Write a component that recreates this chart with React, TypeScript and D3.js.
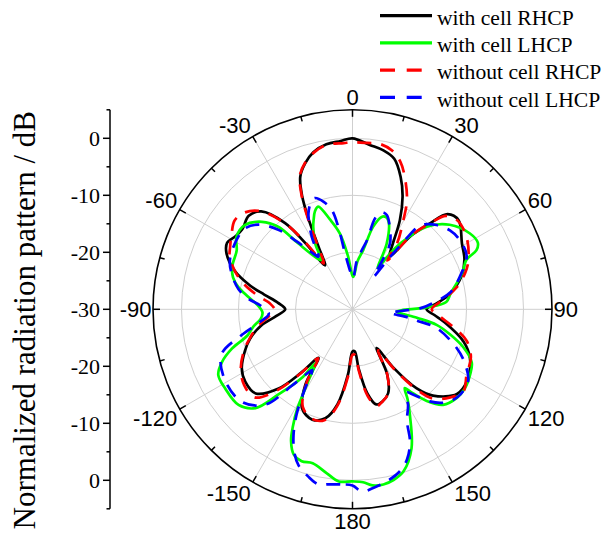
import * as d3 from 'd3';
import { useRef, useEffect } from 'react';

// angle (deg, clockwise from top), normalized level (dB)
const withCellRHCP = [
  [-180, -22.6], [-176, -18.5], [-171, -13.1], [-166, -10.3], [-160, -9.4], [-153, -10.5], [-148, -14.4], [-145, -19.6],
  [-141, -15.7], [-137, -11], [-131, -7.5], [-124, -7.3], [-118, -8], [-111, -9.8], [-106, -11.3], [-100, -13.8],
  [-95, -16.6], [-90, -18.2], [-85, -16.9], [-80.5, -14.3], [-77, -11.6], [-72, -8.3], [-66, -5.8], [-62, -5.1],
  [-58, -5.8], [-54, -6.1], [-48, -5.5], [-43, -6.5], [-38, -10.8], [-35.5, -15.7], [-32, -20.9], [-28.5, -17.5],
  [-26, -12.5], [-24, -8.3], [-21.5, -5], [-18, -3.1], [-14, -1.6], [-9, -0.7], [-4, -0.4], [0, 0], [6, -1],
  [11, -1.6], [15.5, -2.6], [20, -5.3], [24, -8.4], [28, -12.3], [31.5, -16.4], [35, -18.7], [38.5, -13.5],
  [42, -9.7], [45, -6.4], [50, -5.7], [59, -7.6], [66, -8.5], [73, -10], [81, -12.7], [86, -15.2], [90, -17],
  [94, -15.6], [98, -13.7], [106, -9.8], [112.5, -7.7], [122, -6.3], [129, -6.4], [137, -9.3], [141, -12.2],
  [145, -17.5], [148, -22], [152, -17], [157, -14], [162, -13], [166, -12.8], [170, -15], [174, -19.5], [177, -22.6],
];

const withCellLHCP = [
  [-180, 0.2], [-175.5, 0.3], [-171, -0.9], [-165.5, -2.1], [-161.5, -1.9], [-158, -2.5], [-155, -4.5], [-153, -7],
  [-151, -10], [-148.5, -15], [-145.5, -18.5], [-143.5, -15], [-139, -10.2], [-135.5, -5.7], [-130, -3.9], [-122, -3.7],
  [-116, -3.8], [-112, -5.3], [-108, -7.8], [-104, -11], [-100, -12.3], [-96, -13.8], [-92, -14.2], [-88, -13.5],
  [-83, -11.5], [-79, -9.6], [-75, -8.3], [-70.5, -7.6], [-63, -7.2], [-58, -6], [-52, -6], [-46, -7.9], [-42, -10.5],
  [-39.5, -15], [-35.5, -18.7], [-32.5, -19.8], [-29.5, -16.7], [-25.5, -14], [-23.5, -12.9], [-21, -11.6],
  [-18.5, -11], [-14, -13.8], [-9.5, -16.5], [-5, -20.5], [1.4, -24.3], [6, -21.5], [10.3, -19.4], [14, -15.1],
  [17.5, -13], [20, -12.8], [22.5, -13.4], [27.5, -17], [31.5, -21.5], [33.5, -19], [36, -15.7], [42, -10.5],
  [49, -7.4], [57, -5.5], [62, -5.1], [64.5, -5.9], [66.5, -8.2], [72, -9.8], [80.5, -12.5], [85.5, -13.5],
  [88.5, -17], [93, -22.2], [97.5, -18.6], [100.5, -15], [104.5, -12.3], [109, -9.4], [114, -7.1], [119, -6.4],
  [125, -5.9], [130.5, -6], [136.5, -6.9], [141, -9.3], [145, -12.4], [146.5, -13.4], [148.5, -11.5], [151.5, -8.9],
  [157, -3.5], [162.5, -0.2], [166.5, 0.8], [170, 1.2], [173.5, 1.1], [176.5, 0.4],
];

const withoutCellRHCP = [
  [-180, -22], [-176, -18], [-171, -12.8], [-166, -10], [-160, -9.5], [-153, -10.8], [-148, -14.8], [-145, -19.5],
  [-141, -15.5], [-137, -10.5], [-132, -6.9], [-125, -6.8], [-118, -7.8], [-111, -9.6], [-106, -11.2], [-100, -13.2],
  [-95, -15.2], [-91, -16.4], [-86, -15.5], [-82, -13.3], [-77, -10.5], [-73, -8.7], [-67, -6.6], [-63, -5.9],
  [-58, -5], [-53, -4.1], [-48, -4.6], [-43, -6.5], [-38, -11], [-35, -16], [-32, -20.5], [-28.5, -17], [-26, -12],
  [-24, -8], [-21.5, -4.8], [-18, -3], [-13.5, -1.6], [-9, -0.8], [-3, -0.8], [0, -0.7], [5, -0.7], [9.5, -0.6],
  [14, -1.3], [18, -2.8], [21.5, -5], [26.5, -8.6], [30, -12.3], [34, -16], [35.5, -19.5], [38.5, -13.5], [42, -9.7],
  [45, -6.8], [49.5, -5.9], [57.5, -6.3], [67, -7.9], [72, -9.2], [78, -11.3], [84, -14], [90, -16.1], [95, -14.5],
  [100, -12], [105.5, -9.2], [112, -7.6], [120, -6.9], [126.5, -5.8], [132, -6.9], [138, -8.9], [141, -11.5],
  [145, -17], [148, -21.5], [152, -17], [157, -14], [162, -13], [166, -12.5], [170, -14.5], [174, -19], [177, -22],
];

const withoutCellLHCP = [
  [-180, 0.9], [-176, 0.8], [-172, 1], [-169, 1.3], [-165, 0.3], [-161, -1], [-158, -2.8], [-155, -5.5], [-152, -9.1],
  [-149, -13.9], [-146.5, -17.2], [-144.5, -16], [-141.5, -12.8], [-137.5, -7.3], [-130, -4.7], [-119, -4.4],
  [-109, -5.7], [-103, -10.1], [-98, -13.5], [-93, -15.3], [-88, -14], [-84, -11.5], [-80, -9.7], [-74, -8],
  [-68, -6.8], [-59, -6.3], [-53, -6.4], [-48, -7.8], [-43, -10.9], [-39.5, -14.5], [-36, -17.5], [-33, -19],
  [-29.3, -15.4], [-24.7, -11.5], [-21, -9.8], [-18.7, -9.4], [-15, -10.5], [-11.8, -12.2], [-9.8, -15.3],
  [-7.6, -20.1], [-3, -23.5], [1, -24.5], [5, -21.5], [9, -19.5], [12, -17.5], [14, -13.5], [17, -12.2], [20, -12.4],
  [24, -14], [29.6, -16.7], [31.5, -20], [33, -23.2], [35.5, -19], [37, -15.5], [38.5, -11.4], [41, -10.2], [45, -9.1],
  [51, -8], [57, -7.6], [65, -7.9], [73, -10.3], [80, -12.5], [85.5, -15.8], [89, -18], [92, -21.5], [95.5, -23.4],
  [98, -20.5], [100, -18.6], [102.5, -14.9], [110.4, -10.5], [116, -8], [122, -6.1], [130, -6], [136, -7.2],
  [140, -8.9], [144.5, -11.6], [147, -12.6], [150, -10.5], [154, -8.2], [156.5, -4.7], [160, -2], [163.7, -0.4],
  [168.8, 0.8], [173, 1.5], [177, 2],
];

const angleTicks = [0, 30, 60, 90, 120, 150, 180, -150, -120, -90, -60, -30];
const radialTicks = [0, -10, -20, -30];
const gridLevels = [-20, -10, 0];
const legendLabels = ['with cell RHCP', 'with cell LHCP', 'without cell RHCP', 'without cell LHCP'];

const SANS = 'Liberation Sans, Arial, sans-serif';
const SERIF = 'Liberation Serif, Times New Roman, serif';

export default function App() {
  const ref = useRef<SVGSVGElement>(null);

  useEffect(() => {
    const width = 603;
    const height = 533;
    const cx = 352.5;
    const cy = 309.3;

    const svg = d3.select(ref.current);
    svg.selectAll('*').remove();
    svg.attr('width', width).attr('height', height);

    const r = d3.scaleLinear().domain([-30, 5]).range([0, 199.5]);
    const outerR = r(5);
    const rad = (a: number) => (a * Math.PI) / 180;

    const g = svg.append('g').attr('transform', `translate(${cx},${cy})`);

    // grid circles and spokes
    g.selectAll('circle.grid')
      .data(gridLevels)
      .enter()
      .append('circle')
      .attr('r', d => r(d))
      .attr('fill', 'none')
      .attr('stroke', '#cfcfcf')
      .attr('stroke-width', 1);

    g.selectAll('line.spoke')
      .data(d3.range(0, 360, 30))
      .enter()
      .append('line')
      .attr('x1', 0)
      .attr('y1', 0)
      .attr('x2', d => outerR * Math.sin(rad(d)))
      .attr('y2', d => -outerR * Math.cos(rad(d)))
      .attr('stroke', '#cfcfcf')
      .attr('stroke-width', 1);

    // curves
    const series = [
      { data: withCellRHCP, color: '#000000', dash: null },
      { data: withCellLHCP, color: '#00ff00', dash: null },
      { data: withoutCellRHCP, color: '#ff0000', dash: '14,10' },
      { data: withoutCellLHCP, color: '#0000ff', dash: '14,10' },
    ];

    const line = d3.lineRadial<number[]>()
      .angle(d => rad(d[0]))
      .radius(d => r(d[1]))
      .curve(d3.curveCatmullRomClosed.alpha(0.5));

    series.forEach(s => {
      g.append('path')
        .attr('d', line(s.data))
        .attr('fill', 'none')
        .attr('stroke', s.color)
        .attr('stroke-width', 2.7)
        .attr('stroke-dasharray', s.dash)
        .attr('stroke-linejoin', 'round');
    });

    // outer circle + ticks
    g.append('circle')
      .attr('r', outerR)
      .attr('fill', 'none')
      .attr('stroke', '#000')
      .attr('stroke-width', 1.6);

    g.selectAll('line.tick')
      .data(d3.range(0, 360, 15))
      .enter()
      .append('line')
      .attr('x1', d => outerR * Math.sin(rad(d)))
      .attr('y1', d => -outerR * Math.cos(rad(d)))
      .attr('x2', d => (outerR - (d % 30 === 0 ? 7 : 5)) * Math.sin(rad(d)))
      .attr('y2', d => -(outerR - (d % 30 === 0 ? 7 : 5)) * Math.cos(rad(d)))
      .attr('stroke', '#000')
      .attr('stroke-width', 1.5);

    // angle labels, anchored by the corner nearest the circle
    const fs = 22;
    g.selectAll('text.angle')
      .data(angleTicks)
      .enter()
      .append('text')
      .text(d => String(d))
      .each(function (d) {
        const s = Math.sin(rad(d));
        const c = Math.cos(rad(d));
        const rr = 201 + 3 * Math.abs(c);
        const x = rr * s;
        const y = -rr * c;
        const anchor = s > 0.01 ? 'start' : s < -0.01 ? 'end' : 'middle';
        const base = c > 0.01 ? y : c < -0.01 ? y + fs * 0.716 : y + fs * 0.358;
        d3.select(this)
          .attr('x', x)
          .attr('y', Math.min(base, 222))
          .attr('text-anchor', anchor);
      })
      .style('font-family', SANS)
      .style('font-size', `${fs}px`)
      .attr('fill', '#000');

    // left radial axis
    const axisX = 110;
    const ax = svg.append('g');
    ax.append('line')
      .attr('x1', axisX).attr('x2', axisX)
      .attr('y1', cy - outerR).attr('y2', cy + outerR)
      .attr('stroke', '#000').attr('stroke-width', 1.5);

    const majorYs = [
      ...radialTicks.map(v => ({ v, y: cy - r(v) })),
      ...radialTicks.slice(0, 3).map(v => ({ v, y: cy + r(v) })),
    ];
    const minorYs = [5, -5, -15, -25].flatMap(v => [cy - r(v), cy + r(v)]);

    ax.selectAll('line.major')
      .data(majorYs)
      .enter()
      .append('line')
      .attr('x1', axisX - 7).attr('x2', axisX)
      .attr('y1', d => d.y).attr('y2', d => d.y)
      .attr('stroke', '#000').attr('stroke-width', 1.5);

    ax.selectAll('line.minor')
      .data(minorYs)
      .enter()
      .append('line')
      .attr('x1', axisX - 3.5).attr('x2', axisX)
      .attr('y1', d => d).attr('y2', d => d)
      .attr('stroke', '#000').attr('stroke-width', 1.5);

    ax.selectAll('text.rlabel')
      .data(majorYs)
      .enter()
      .append('text')
      .attr('x', 100)
      .attr('y', d => d.y + 8)
      .attr('text-anchor', 'end')
      .text(d => String(d.v))
      .style('font-family', SERIF)
      .style('font-size', '22px');

    svg.append('text')
      .attr('transform', 'translate(35,111) rotate(-90)')
      .attr('text-anchor', 'end')
      .text('Normalized radiation pattern / dB')
      .style('font-family', SERIF)
      .style('font-size', '31px');

    // legend
    const legend = svg.append('g');
    const rowY = (i: number) => 15.7 + i * 27.2;
    legend.selectAll('line')
      .data(series)
      .enter()
      .append('line')
      .attr('x1', 380).attr('x2', 432)
      .attr('y1', (d, i) => rowY(i)).attr('y2', (d, i) => rowY(i))
      .attr('stroke', d => d.color)
      .attr('stroke-width', 3.2)
      .attr('stroke-dasharray', d => (d.dash ? '15,11.7' : null));

    legend.selectAll('text')
      .data(legendLabels)
      .enter()
      .append('text')
      .attr('x', 437)
      .attr('y', (d, i) => rowY(i) + 9.2)
      .text(d => d)
      .style('font-family', SERIF)
      .style('font-size', '21.6px');
  }, []);

  return (
    <svg ref={ref} style={{ position: 'absolute', left: 0, top: 0 }}></svg>
  );
}
